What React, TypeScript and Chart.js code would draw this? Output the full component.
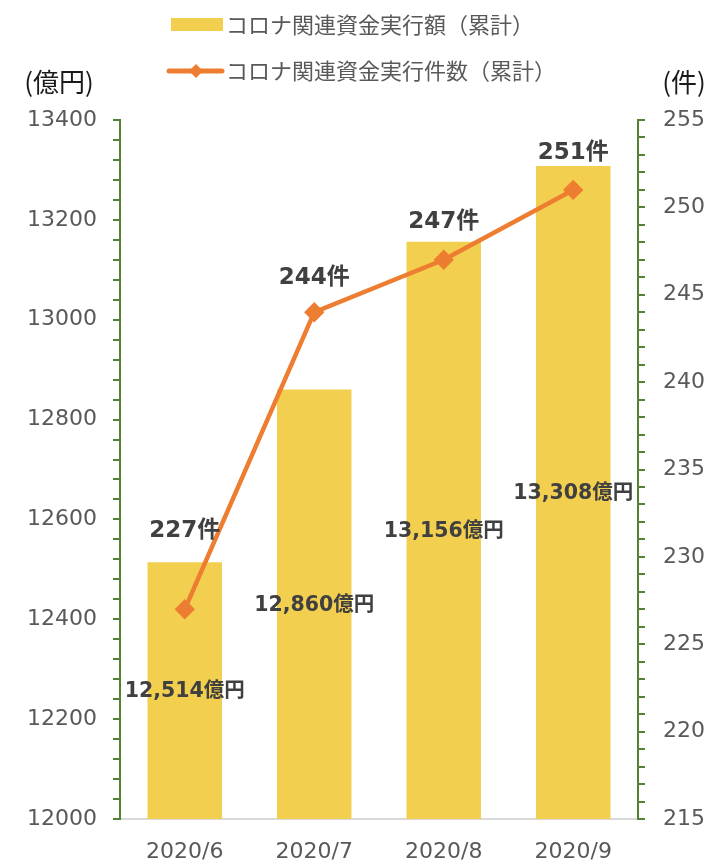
import React, { useEffect, useRef } from 'react';
import { Chart, registerables } from 'chart.js';

Chart.register(...registerables);

// ---- data ----
const categories = ['2020/6', '2020/7', '2020/8', '2020/9'];
const amountValues = [12514, 12860, 13156, 13308]; // 億円 (cumulative)
const countValues = [227, 244, 247, 251]; // 件 (cumulative)
const amountLabels = ['12,514億円', '12,860億円', '13,156億円', '13,308億円'];
const countLabels = ['227件', '244件', '247件', '251件'];
const legendLabels = ['コロナ関連資金実行額（累計）', 'コロナ関連資金実行件数（累計）'];
const leftAxisTitle = '(億円)';
const rightAxisTitle = '(件)';

// ---- style ----
const FONT = "'DejaVu Sans', 'Noto Sans CJK JP', sans-serif";
const CJK = "'Noto Sans CJK JP', 'DejaVu Sans', sans-serif";
const BAR_COLOR = '#F2CF4F';
const LINE_COLOR = '#ED7D31';
const AXIS_GREEN = '#548235';
const TICK_TEXT = '#595959';
const LABEL_TEXT = '#404040';
const countLabelLift = [78, 34, 38, 37];

const overlayPlugin = {
  id: 'overlay',
  afterDatasetsDraw(chart: any) {
    const ctx = chart.ctx;
    const yScale = chart.scales.y;
    ctx.save();
    ctx.fillStyle = LABEL_TEXT;
    ctx.textAlign = 'center';
    ctx.textBaseline = 'middle';
    ctx.font = `bold 20.5px ${FONT}`;
    const barMeta = chart.getDatasetMeta(0);
    barMeta.data.forEach((el: any, i: number) => {
      const x = el.x;
      const top = yScale.getPixelForValue(amountValues[i]);
      const base = yScale.bottom;
      ctx.fillText(amountLabels[i], x, (top + base) / 2 + 1);
    });
    ctx.font = `bold 23px ${FONT}`;
    chart.getDatasetMeta(1).data.forEach((el: any, i: number) => {
      ctx.fillText(countLabels[i], el.x, el.y - countLabelLift[i]);
    });
    ctx.restore();
  },
  afterDraw(chart: any) {
    const ctx = chart.ctx;
    ctx.save();
    // legend row 1
    ctx.fillStyle = BAR_COLOR;
    ctx.fillRect(171, 18, 52, 13);
    ctx.fillStyle = TICK_TEXT;
    ctx.font = `22px ${CJK}`;
    ctx.textAlign = 'left';
    ctx.textBaseline = 'middle';
    ctx.fillText(legendLabels[0], 226, 25);
    // legend row 2
    ctx.strokeStyle = LINE_COLOR;
    ctx.lineWidth = 5;
    ctx.lineCap = 'round';
    ctx.beginPath();
    ctx.moveTo(169, 71);
    ctx.lineTo(222, 71);
    ctx.stroke();
    ctx.fillStyle = LINE_COLOR;
    ctx.beginPath();
    ctx.moveTo(196, 64);
    ctx.lineTo(203, 71);
    ctx.lineTo(196, 78);
    ctx.lineTo(189, 71);
    ctx.closePath();
    ctx.fill();
    ctx.fillStyle = TICK_TEXT;
    ctx.fillText(legendLabels[1], 226, 71);
    // axis titles
    ctx.fillStyle = '#1a1a1a';
    ctx.font = `26px ${CJK}`;
    ctx.textAlign = 'center';
    ctx.fillText(leftAxisTitle, 59, 82);
    ctx.fillText(rightAxisTitle, 684, 82);
    ctx.restore();
  },
};

export default function App() {
  const ref = useRef<HTMLCanvasElement | null>(null);
  useEffect(() => {
    if (!ref.current) return;
    const chart = new Chart(ref.current, {
      type: 'bar',
      data: {
        labels: categories,
        datasets: [
          {
            type: 'bar',
            label: legendLabels[0],
            data: amountValues,
            backgroundColor: BAR_COLOR,
            yAxisID: 'y',
            barPercentage: 0.575,
            categoryPercentage: 1,
            order: 1,
          },
          {
            type: 'line',
            label: legendLabels[1],
            data: countValues,
            borderColor: LINE_COLOR,
            backgroundColor: LINE_COLOR,
            borderWidth: 4.5,
            pointStyle: 'rectRot',
            pointRadius: 7,
            pointBackgroundColor: LINE_COLOR,
            pointBorderColor: LINE_COLOR,
            tension: 0,
            yAxisID: 'y1',
            order: 0,
          } as any,
        ],
      },
      options: {
        responsive: false,
        animation: false,
        layout: { padding: { top: 120, left: 0, right: 0, bottom: 0 } },
        plugins: { legend: { display: false }, tooltip: { enabled: false } },
        scales: {
          x: {
            grid: { display: true, drawOnChartArea: false, drawTicks: false },
            border: { color: '#D9D9D9', width: 2 },
            ticks: { color: TICK_TEXT, font: { family: FONT, size: 22 }, padding: 20 },
            afterFit: (s: any) => { s.height = 45; },
          },
          y: {
            position: 'left',
            min: 12000,
            max: 13400,
            ticks: {
              stepSize: 40,
              autoSkip: false,
              color: TICK_TEXT,
              font: { family: FONT, size: 22 },
              padding: 16,
              callback: (v: any) => (Math.round(v) % 200 === 0 ? String(v) : ''),
            },
            grid: { drawOnChartArea: false, color: AXIS_GREEN, tickColor: AXIS_GREEN, tickLength: 7, lineWidth: 2 },
            border: { color: AXIS_GREEN, width: 2 },
            afterFit: (s: any) => { s.width = 120; },
          },
          y1: {
            position: 'right',
            min: 215,
            max: 255,
            ticks: {
              stepSize: 1,
              autoSkip: false,
              color: TICK_TEXT,
              font: { family: FONT, size: 22 },
              padding: 18,
              callback: (v: any) => (Math.round(v) % 5 === 0 ? String(v) : ''),
            },
            grid: { drawOnChartArea: false, color: AXIS_GREEN, tickColor: AXIS_GREEN, tickLength: 7, lineWidth: 2 },
            border: { color: AXIS_GREEN, width: 2 },
            afterFit: (s: any) => { s.width = 72; },
          },
        },
      },
      plugins: [overlayPlugin],
    });
    return () => chart.destroy();
  }, []);
  return (
    <div style={{ position: 'absolute', left: 0, top: 0, width: 710, height: 864 }}>
      <canvas ref={ref} width={710} height={864} style={{ display: 'block' }} />
    </div>
  );
}
